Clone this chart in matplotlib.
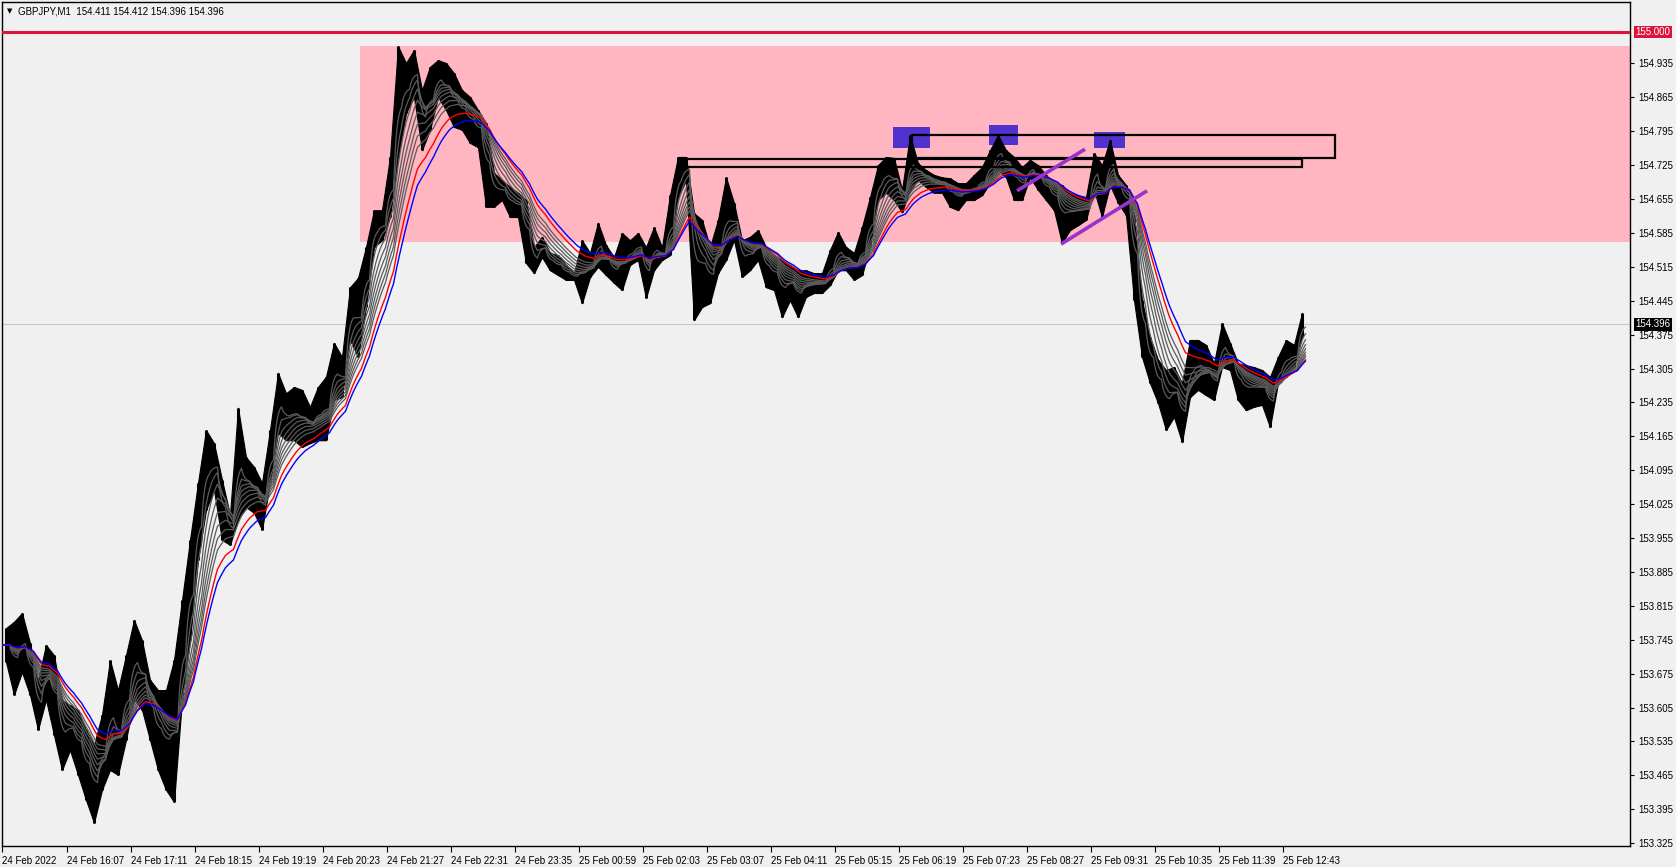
import numpy as np
import pandas as pd
import matplotlib
matplotlib.use("Agg")
import matplotlib.pyplot as plt
from matplotlib.patches import Rectangle

plt.rcParams['font.family'] = ['Liberation Sans', 'DejaVu Sans']

# GBPJPY M1, one block = 8 one-minute bars
step = 8
hi = [153.769, 153.782, 153.800, 153.738, 153.662, 153.734, 153.713, 153.621, 153.610, 153.600,
      153.559, 153.528, 153.590, 153.703, 153.641, 153.713, 153.786, 153.744, 153.662, 153.641,
      153.641, 153.703, 153.827, 153.951, 154.069, 154.178, 154.151, 154.075, 154.003, 154.224,
      154.122, 154.102, 154.069, 154.178, 154.296, 154.254, 154.267, 154.261, 154.226, 154.267,
      154.288, 154.358, 154.329, 154.473, 154.492, 154.556, 154.632, 154.632, 154.742, 154.971,
      154.936, 154.963, 154.880, 154.928, 154.942, 154.936, 154.915, 154.880, 154.866, 154.839,
      154.812, 154.709, 154.694, 154.680, 154.668, 154.653, 154.556, 154.577, 154.544, 154.539,
      154.519, 154.502, 154.570, 154.544, 154.606, 154.560, 154.535, 154.585, 154.570, 154.585,
      154.556, 154.597, 154.556, 154.663, 154.742, 154.742, 154.626, 154.612, 154.556, 154.612,
      154.700, 154.647, 154.570, 154.577, 154.591, 154.556, 154.539, 154.529, 154.519, 154.508,
      154.508, 154.502, 154.502, 154.550, 154.587, 154.556, 154.544, 154.597, 154.659, 154.725,
      154.742, 154.740, 154.674, 154.787, 154.729, 154.715, 154.705, 154.700, 154.698, 154.688,
      154.688, 154.705, 154.721, 154.756, 154.787, 154.756, 154.742, 154.721, 154.736, 154.725,
      154.705, 154.688, 154.684, 154.668, 154.663, 154.659, 154.750, 154.725, 154.777, 154.705,
      154.684, 154.622, 154.446, 154.370, 154.323, 154.302, 154.308, 154.275, 154.364, 154.364,
      154.354, 154.316, 154.399, 154.358, 154.316, 154.312, 154.308, 154.302, 154.288, 154.329,
      154.364, 154.354, 154.420]
lo = [153.699, 153.631, 153.678, 153.631, 153.559, 153.621, 153.548, 153.476, 153.517, 153.466,
      153.414, 153.367, 153.435, 153.476, 153.466, 153.538, 153.621, 153.600, 153.538, 153.476,
      153.435, 153.410, 153.621, 153.744, 153.910, 154.013, 154.054, 153.951, 153.941, 153.992,
      154.019, 154.007, 153.972, 154.069, 154.172, 154.157, 154.157, 154.143, 154.151, 154.157,
      154.157, 154.240, 154.246, 154.364, 154.329, 154.432, 154.556, 154.570, 154.618, 154.742,
      154.833, 154.866, 154.756, 154.798, 154.866, 154.839, 154.804, 154.798, 154.771, 154.762,
      154.639, 154.639, 154.653, 154.618, 154.618, 154.523, 154.502, 154.535, 154.508, 154.498,
      154.488, 154.488, 154.440, 154.494, 154.515, 154.498, 154.482, 154.467, 154.519, 154.529,
      154.451, 154.508, 154.529, 154.539, 154.659, 154.694, 154.405, 154.432, 154.440, 154.502,
      154.529, 154.570, 154.494, 154.508, 154.529, 154.473, 154.467, 154.411, 154.446, 154.411,
      154.453, 154.461, 154.461, 154.477, 154.508, 154.508, 154.488, 154.498, 154.556, 154.653,
      154.668, 154.653, 154.628, 154.674, 154.694, 154.680, 154.668, 154.668, 154.639, 154.632,
      154.653, 154.653, 154.663, 154.688, 154.715, 154.700, 154.653, 154.653, 154.700, 154.674,
      154.653, 154.632, 154.564, 154.591, 154.601, 154.612, 154.674, 154.618, 154.684, 154.647,
      154.622, 154.446, 154.329, 154.275, 154.234, 154.178, 154.205, 154.153, 154.246, 154.261,
      154.250, 154.240, 154.308, 154.302, 154.240, 154.219, 154.226, 154.230, 154.184, 154.275,
      154.288, 154.308, 154.370]

gray_periods = [6, 12, 18, 24, 30, 36, 42, 48]
red_period = 60
blue_period = 70

# x axis labels (minutes from the first bar)
tick_min = [0, 65, 129, 193, 257, 321, 385, 449, 513, 577, 641, 705, 769, 833, 897,
            961, 1025, 1089, 1153, 1217, 1281]
tick_lab = ['24 Feb 2022', '24 Feb 16:07', '24 Feb 17:11', '24 Feb 18:15', '24 Feb 19:19',
            '24 Feb 20:23', '24 Feb 21:27', '24 Feb 22:31', '24 Feb 23:35', '25 Feb 00:59',
            '25 Feb 02:03', '25 Feb 03:07', '25 Feb 04:11', '25 Feb 05:15', '25 Feb 06:19',
            '25 Feb 07:23', '25 Feb 08:27', '25 Feb 09:31', '25 Feb 10:35', '25 Feb 11:39',
            '25 Feb 12:43']
price_ticks = [153.325 + 0.07 * i for i in range(24)]

level = 155.000
last_price = 154.396
zone = (358, 154.566, 154.971)          # start minute, bottom, top
boxes = [(910, 1333, 154.740, 154.787), (683, 1300, 154.721, 154.738)]
highs_marked = [(891, 928, 154.760, 154.804), (987, 1016, 154.767, 154.808),
                (1092, 1123, 154.760, 154.793)]
trend_lines = [((1015, 154.672), (1083, 154.758)), ((1059, 154.562), (1145, 154.672))]

bg = '#F0F0F0'
fig = plt.figure(figsize=(16.76, 8.67), dpi=100)
fig.patch.set_facecolor(bg)
ax = fig.add_axes([2 / 1676, 21 / 867, 1628 / 1676, 844 / 867])
ax.set_facecolor(bg)
ax.set_xlim(0, 1628)
ax.set_ylim(153.319, 155.062)

hi = np.array(hi)
lo = np.array(lo)
tc = np.arange(len(hi)) * step + step / 2

# supply zone
ax.add_patch(Rectangle((zone[0], zone[1]), 1628 - zone[0], zone[2] - zone[1],
                       facecolor='#FFB6C1', edgecolor='none', zorder=0))
for a, b, y0, y1 in highs_marked:
    ax.add_patch(Rectangle((a, y0), b - a, y1 - y0, facecolor='#5232CF',
                           edgecolor='none', zorder=1))

ax.axhline(last_price, color='#C8C8C8', lw=0.8, zorder=1)

# price bars: a jagged band between the block highs and lows plus the block spikes
ax.fill_between(tc, lo, hi, color='black', linewidth=0.8, edgecolor='black', zorder=2)
ax.vlines(tc, lo, hi, color='black', lw=2.2, zorder=2)

# moving average ribbon
mid = pd.Series(np.repeat((hi + lo) / 2, step))
tm = np.arange(len(mid)) + 0.5
for n in gray_periods:
    ax.plot(tm, mid.ewm(span=n, adjust=False).mean(), color='#5A5A5A', lw=0.9, zorder=3)
ax.plot(tm, mid.ewm(span=red_period, adjust=False).mean(), color='red', lw=1.0, zorder=4)
ax.plot(tm, mid.ewm(span=blue_period, adjust=False).mean(), color='blue', lw=1.0, zorder=4)

for a, b, y0, y1 in boxes:
    ax.add_patch(Rectangle((a, y0), b - a, y1 - y0, facecolor='none',
                           edgecolor='black', lw=1.6, zorder=5))
for (x0, y0), (x1, y1) in trend_lines:
    ax.plot([x0, x1], [y0, y1], color='#9932CC', lw=2.6, solid_capstyle='butt', zorder=6)

ax.axhline(level, color='#DC143C', lw=2.2, zorder=6)

# axes styling
for s in ax.spines.values():
    s.set_color('black')
    s.set_linewidth(1.0)
ax.yaxis.tick_right()
ax.set_yticks(price_ticks)
ax.set_yticklabels(['%.3f' % p for p in price_ticks])
ax.tick_params(axis='y', length=3, pad=3, labelsize=7, colors='black')
ax.set_xticks(tick_min)
ax.set_xticklabels(tick_lab, ha='left')
ax.tick_params(axis='x', length=4, pad=3, labelsize=7, colors='black')

for p, c in [(level, '#DC143C'), (last_price, 'black')]:
    ax.annotate('%.3f' % p, xy=(1, p), xycoords=('axes fraction', 'data'),
                xytext=(4, 0), textcoords='offset points', va='center', ha='left',
                fontsize=7, color='white',
                bbox=dict(boxstyle='square,pad=0.15', fc=c, ec='none'), zorder=10)

fig.text(7 / 1676, 1 - 11 / 867, '\u25bc', fontsize=5, va='center', ha='left',
         family=['DejaVu Sans'])
fig.text(18 / 1676, 1 - 11 / 867, 'GBPJPY,M1  154.411 154.412 154.396 154.396',
         fontsize=7, va='center', ha='left')

fig.savefig('out.png', dpi=100, facecolor=bg)
